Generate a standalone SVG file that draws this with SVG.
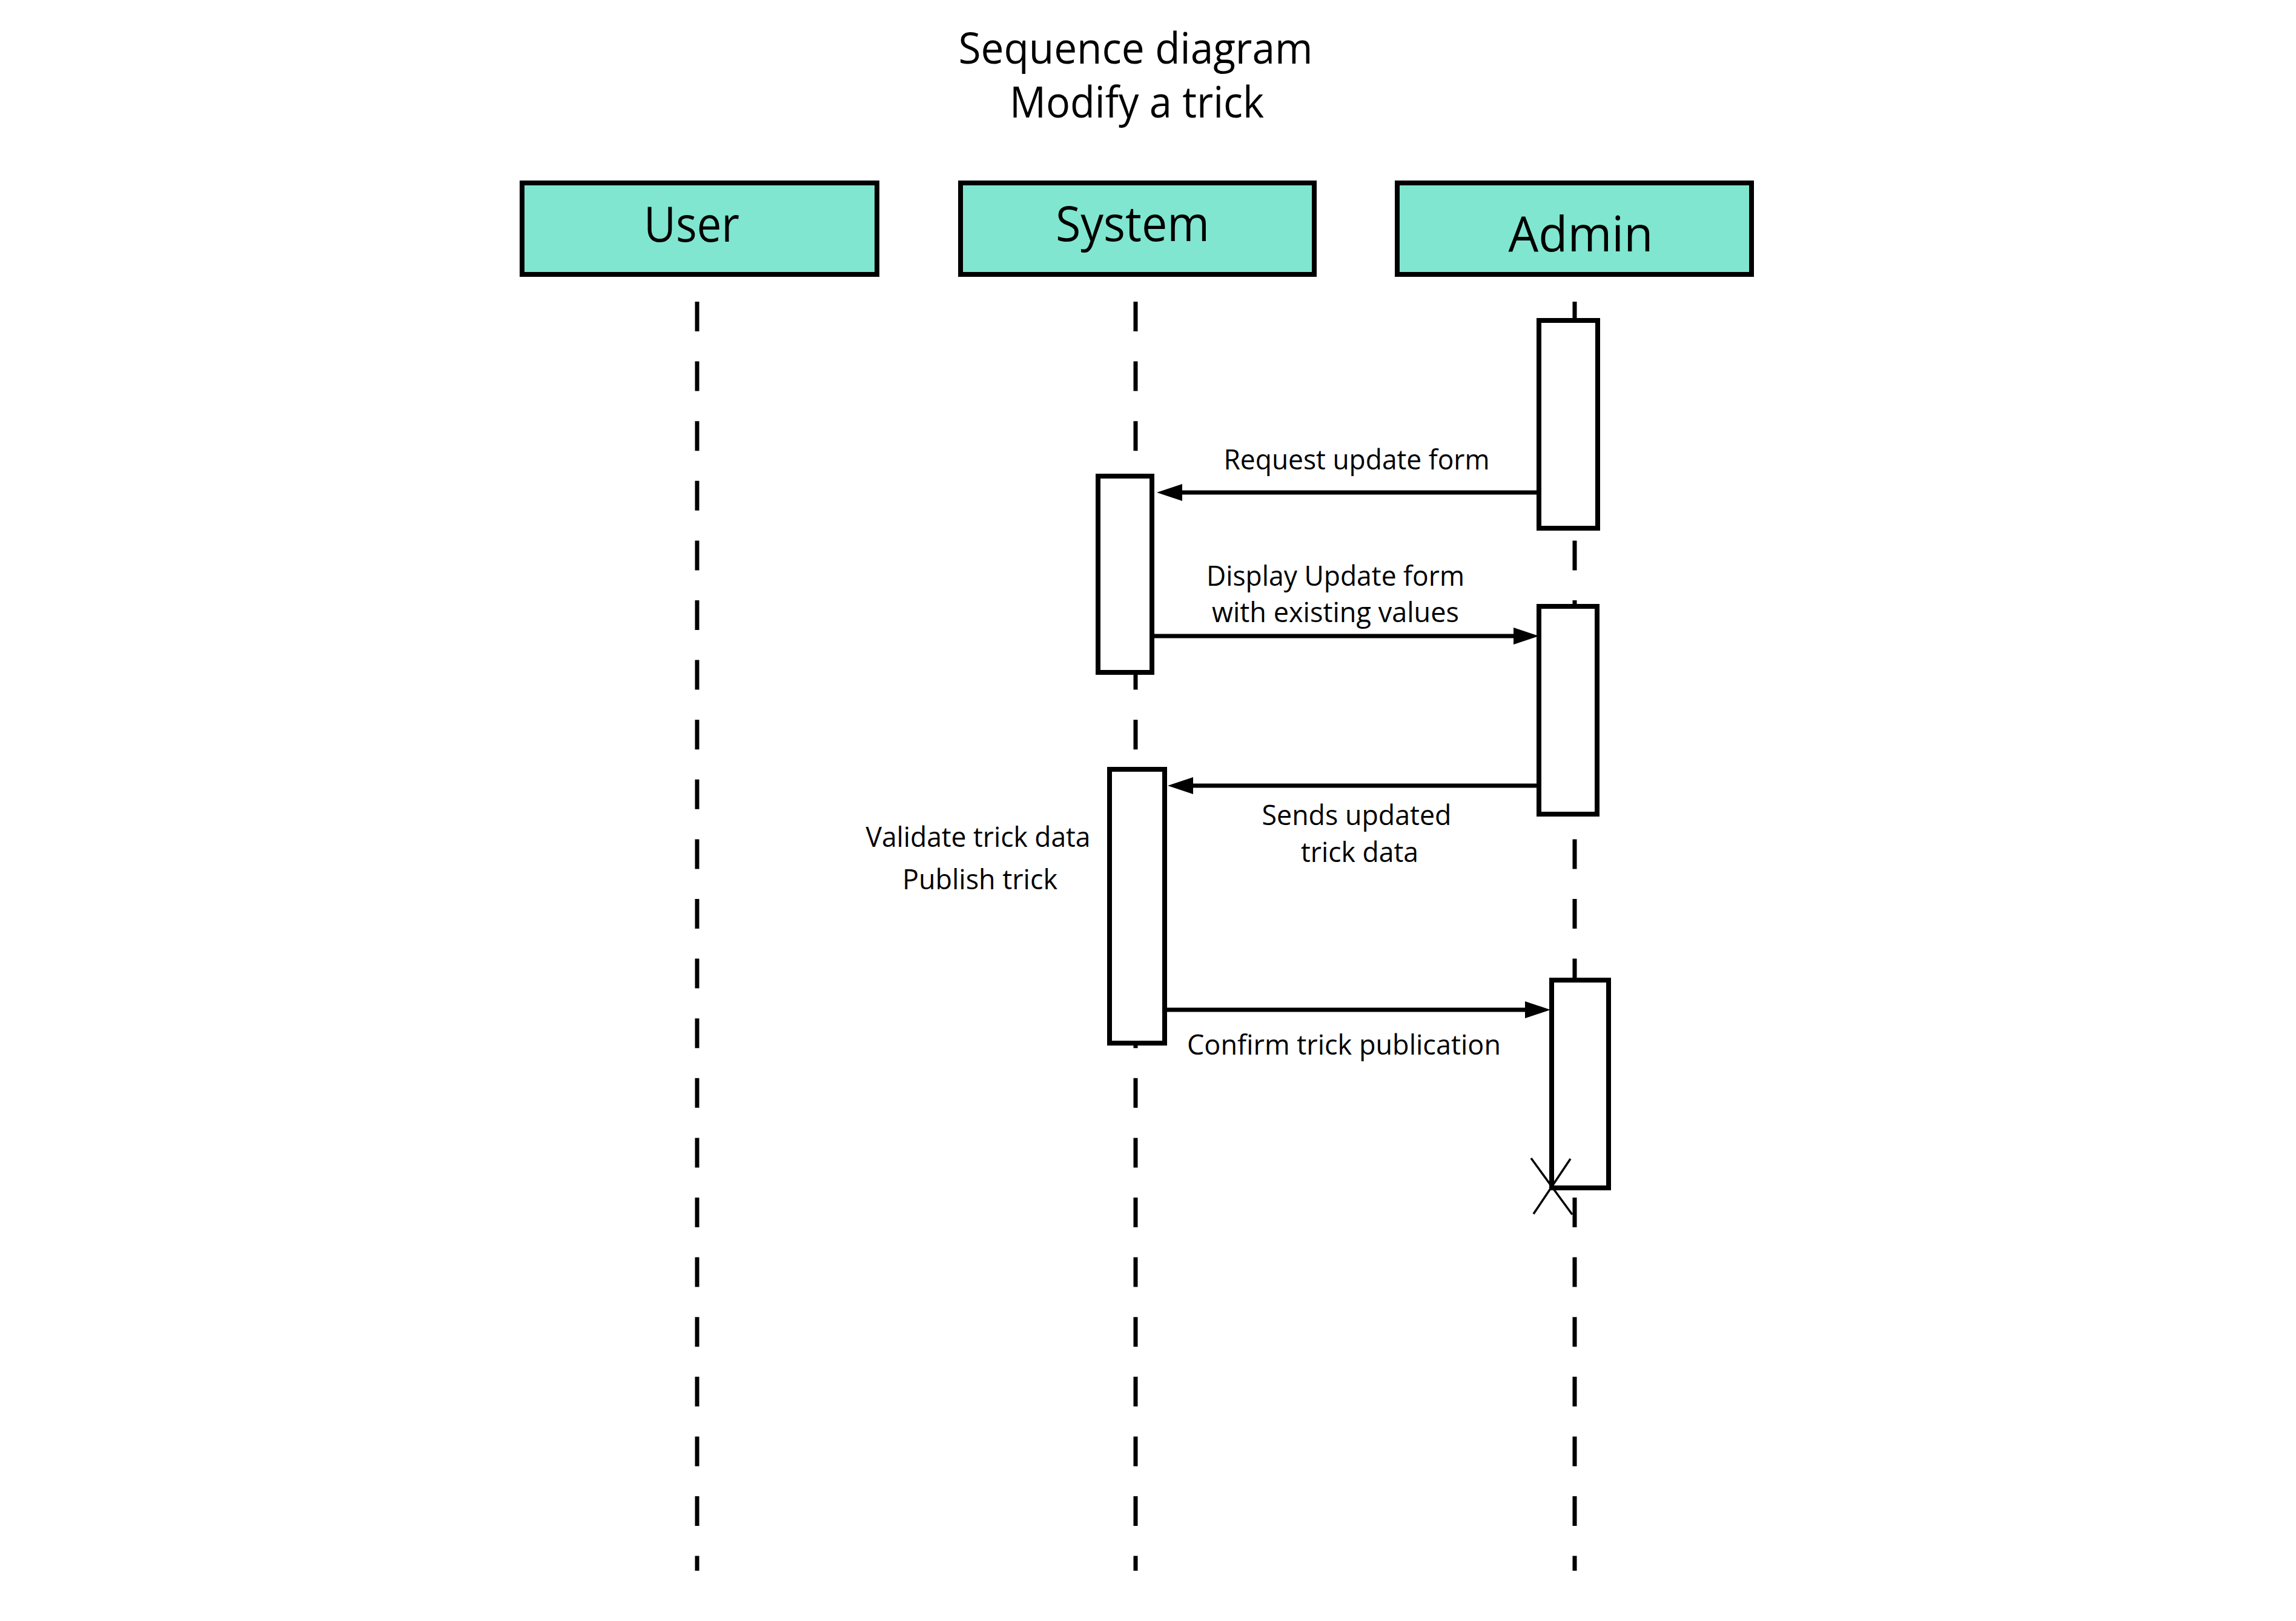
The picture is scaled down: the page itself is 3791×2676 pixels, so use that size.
<svg xmlns="http://www.w3.org/2000/svg" width="3791" height="2676" viewBox="0 0 3791 2676">
  <style>
    text { font-family: "Open Sans", "Noto Sans", "Liberation Sans", sans-serif; fill: #000; }
    .title { font-size: 71px; text-anchor: middle; }
    .actor-box { fill: #80E6D0; stroke: #000; stroke-width: 8; }
    .actor-label { font-size: 81px; text-anchor: middle; }
    .lifeline { stroke: #000; stroke-width: 7; stroke-dasharray: 49 49.6; fill: none; }
    .activation { fill: #fff; stroke: #000; stroke-width: 8; }
    .msg { stroke: #000; stroke-width: 7; fill: none; marker-end: url(#head); }
    .msg-label { font-size: 45px; text-anchor: middle; }
    .destroy { stroke: #000; stroke-width: 3.5; }
  </style>
  <defs>
    <marker id="head" markerUnits="userSpaceOnUse" markerWidth="42" markerHeight="30" refX="0" refY="15" orient="auto">
      <path d="M0,1 L42,15 L0,29 Z" fill="#000"/>
    </marker>
  </defs>

  <rect width="3791" height="2676" fill="#fff"/>

  <!-- Title -->
  <g id="title">
    <text class="title" x="1875" y="105" textLength="585" lengthAdjust="spacingAndGlyphs">Sequence diagram</text>
    <text class="title" x="1877" y="194" textLength="420" lengthAdjust="spacingAndGlyphs">Modify a trick</text>
  </g>

  <!-- Lifelines -->
  <g id="lifelines">
    <line class="lifeline" x1="1151" y1="498" x2="1151" y2="2593"/>
    <line class="lifeline" x1="1875" y1="498" x2="1875" y2="2593"/>
    <line class="lifeline" x1="2600" y1="498" x2="2600" y2="2593"/>
  </g>

  <!-- Actors -->
  <g id="actor-user">
    <rect class="actor-box" x="862" y="302" width="586" height="151"/>
    <text class="actor-label" x="1142" y="399" textLength="158" lengthAdjust="spacingAndGlyphs">User</text>
  </g>
  <g id="actor-system">
    <rect class="actor-box" x="1586" y="302" width="584" height="151"/>
    <text class="actor-label" x="1870" y="398" textLength="254" lengthAdjust="spacingAndGlyphs">System</text>
  </g>
  <g id="actor-admin">
    <rect class="actor-box" x="2307" y="302" width="585" height="151"/>
    <text class="actor-label" x="2610" y="415" textLength="239" lengthAdjust="spacingAndGlyphs">Admin</text>
  </g>

  <!-- Activation bars -->
  <g id="activation-admin-1"><rect class="activation" x="2541" y="529" width="97" height="343"/></g>
  <g id="activation-system-1"><rect class="activation" x="1813" y="786" width="89" height="324"/></g>
  <g id="activation-admin-2"><rect class="activation" x="2541" y="1001" width="96" height="343"/></g>
  <g id="activation-system-2">
    <rect class="activation" x="1832" y="1270" width="91" height="452"/>
    <text class="msg-label" x="1615" y="1398" textLength="371" lengthAdjust="spacingAndGlyphs">Validate trick data</text>
    <text class="msg-label" x="1618" y="1468" textLength="256" lengthAdjust="spacingAndGlyphs">Publish trick</text>
  </g>
  <g id="activation-admin-3"><rect class="activation" x="2562" y="1618" width="94" height="343"/></g>

  <!-- Messages -->
  <g id="connectors">
    <line class="msg" x1="2537" y1="813" x2="1952" y2="813"/>
    <text class="msg-label" x="2240" y="775" textLength="439" lengthAdjust="spacingAndGlyphs">Request update form</text>

    <line class="msg" x1="1906" y1="1050" x2="2499" y2="1050"/>
    <text class="msg-label" x="2205" y="967" textLength="426" lengthAdjust="spacingAndGlyphs">Display Update form</text>
    <text class="msg-label" x="2205" y="1027" textLength="408" lengthAdjust="spacingAndGlyphs">with existing values</text>

    <line class="msg" x1="2537" y1="1297" x2="1970" y2="1297"/>
    <text class="msg-label" x="2240" y="1362" textLength="313" lengthAdjust="spacingAndGlyphs">Sends updated</text>
    <text class="msg-label" x="2245" y="1423" textLength="194" lengthAdjust="spacingAndGlyphs">trick data</text>

    <line class="msg" x1="1927" y1="1667" x2="2518" y2="1667"/>
    <text class="msg-label" x="2219" y="1741" textLength="518" lengthAdjust="spacingAndGlyphs">Confirm trick publication</text>
  </g>

  <!-- Destruction mark -->
  <g id="destroy-admin">
    <line class="destroy" x1="2528" y1="1912" x2="2596" y2="2005"/>
    <line class="destroy" x1="2593" y1="1913" x2="2532" y2="2004"/>
  </g>
</svg>
